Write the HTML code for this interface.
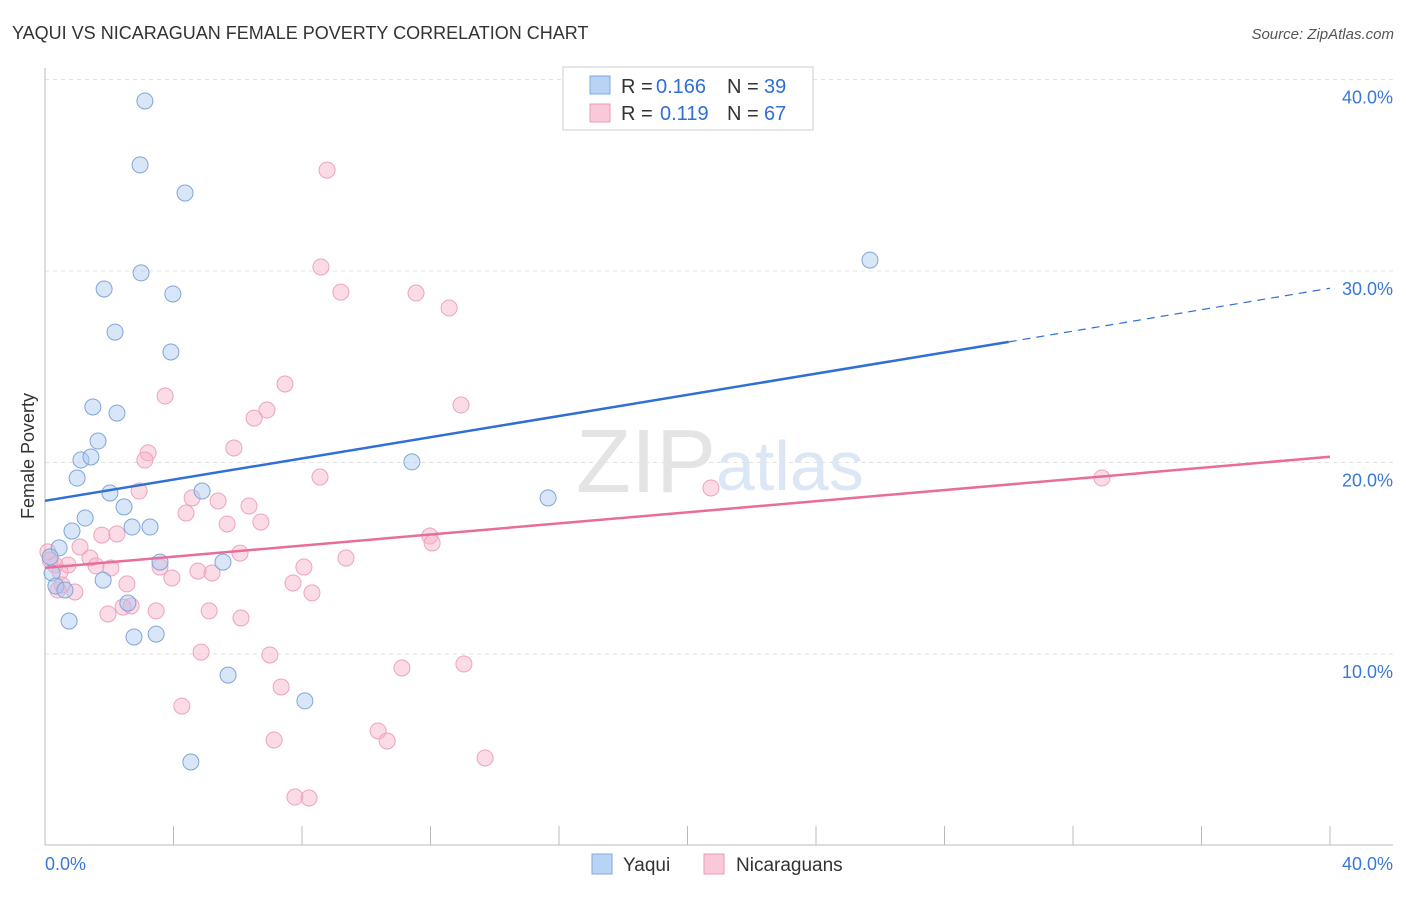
<!DOCTYPE html>
<html><head><meta charset="utf-8"><style>
body{margin:0;background:#fff;font-family:"Liberation Sans",sans-serif}
svg text{font-family:"Liberation Sans",sans-serif}
</style></head><body>
<svg id="c" width="1406" height="892">
<text x="12" y="39" font-size="18" fill="#333">YAQUI VS NICARAGUAN FEMALE POVERTY CORRELATION CHART</text>
<text x="1394" y="39" font-size="15" fill="#555" font-style="italic" text-anchor="end">Source: ZipAtlas.com</text>
<text x="34" y="456" font-size="18" fill="#333" text-anchor="middle" transform="rotate(-90 34 456)">Female Poverty</text>
<text x="716" y="492" font-size="90" fill="#e4e4e4" text-anchor="end" font-family="Liberation Serif">ZIP</text>
<text x="716" y="490" font-size="70" fill="#dbe7f6">atlas</text>
<g id="grid"></g><g id="pts"></g><g id="lines"></g>
<g>
<rect x="563" y="67" width="250" height="63" fill="#fff" stroke="#ccc"/>
<rect x="590" y="76" width="20" height="18" fill="#b9d3f5" stroke="#7fa8e0"/>
<text x="621" y="93" font-size="20" fill="#333">R = </text>
<text x="656" y="93" font-size="20" fill="#2f6fd6">0.166</text>
<text x="727" y="93" font-size="20" fill="#333">N = </text>
<text x="764" y="93" font-size="20" fill="#2f6fd6">39</text>
<rect x="590" y="104" width="20" height="18" fill="#f9c9d9" stroke="#ec9ab5"/>
<text x="621" y="120" font-size="20" fill="#333">R = </text>
<text x="660" y="120" font-size="20" fill="#2f6fd6">0.119</text>
<text x="727" y="120" font-size="20" fill="#333">N = </text>
<text x="764" y="120" font-size="20" fill="#2f6fd6">67</text>
</g>
<g>
<rect x="592" y="854" width="20" height="20" fill="#b9d3f5" stroke="#7fa8e0"/>
<text x="623" y="871" font-size="19" fill="#333">Yaqui</text>
<rect x="704" y="854" width="20" height="20" fill="#f9c9d9" stroke="#ec9ab5"/>
<text x="736" y="871" font-size="19" fill="#333">Nicaraguans</text>
</g>
<text x="45" y="870" font-size="18" fill="#3a78d8">0.0%</text>
<text x="1393" y="870" font-size="18" fill="#3a78d8" text-anchor="end">40.0%</text>
</svg>
<script>
const yTicks=[10,20,30,40];
const bluePx=[[145,101],[140,165],[185,193],[141,273],[104,289],[173,294],[115,332],[171,352],[93,407],[117,413],[98,441],[81,460],[91,457],[77,478],[110,493],[124,507],[85,518],[132,527],[150,527],[72,531],[59,548],[50,557],[52,573],[56,586],[65,590],[103,580],[128,603],[69,621],[134,637],[156,634],[160,562],[223,562],[202,491],[228,675],[305,701],[191,762],[412,462],[548,498],[870,260]];
const pinkPx=[[327,170],[321,267],[341,292],[416,293],[449,308],[165,396],[285,384],[267,410],[254,418],[461,405],[234,448],[148,453],[145,460],[139,491],[192,498],[218,501],[249,506],[186,513],[261,522],[227,524],[320,477],[117,534],[102,535],[240,553],[346,558],[430,536],[432,543],[90,558],[80,547],[68,565],[55,565],[48,552],[60,572],[96,566],[111,568],[75,592],[127,584],[160,567],[172,578],[198,571],[212,573],[304,567],[293,583],[312,593],[108,614],[123,607],[131,606],[156,611],[209,611],[241,618],[201,652],[270,655],[281,687],[402,668],[464,664],[182,706],[274,740],[378,731],[387,741],[485,758],[295,797],[309,798],[711,488],[1102,478],[62,585],[50,560],[58,590]];
const yaquiX=bluePx.map(p=>+((p[0]-45)/32.125).toFixed(2));
const yaquiY=bluePx.map(p=>+((845.5-p[1])/19.15).toFixed(2));
const nicX=pinkPx.map(p=>+((p[0]-45)/32.125).toFixed(2));
const nicY=pinkPx.map(p=>+((845.5-p[1])/19.15).toFixed(2));
const blueLine=[[0,18.0],[30,26.3],[40,29.1]];
const pinkLine=[[0,14.5],[40,20.3]];
const X=v=>45+v*32.125, Y=v=>845.5-v*19.15;
const NS='http://www.w3.org/2000/svg';
function mk(t,a,parent){const e=document.createElementNS(NS,t);for(const k in a)e.setAttribute(k,a[k]);parent.appendChild(e);return e;}
const grid=document.getElementById('grid');
yTicks.forEach(t=>{
 const l=mk('line',{x1:45,x2:1393,y1:Y(t),y2:Y(t),stroke:'#e3e3e3','stroke-dasharray':'4,4'},grid);
 
 
 const tx=mk('text',{x:1393,y:Y(t)+24,'font-size':18,fill:'#3a78d8','text-anchor':'end'},grid);
 tx.textContent=t.toFixed(1)+'%';
 
 
});
const ax=mk('line',{x1:45,x2:45,y1:68,y2:845,stroke:'#bbb'},grid);


const bx=mk('line',{x1:45,x2:1393,y1:845,y2:845,stroke:'#bbb'},grid);


for(let i=1;i<=10;i++){const tk=mk('line',{x1:X(i*4),x2:X(i*4),y1:826,y2:845,stroke:'#bbb'},grid);
 
 }
const pts=document.getElementById('pts');
nicX.forEach((x,i)=>{const c=mk('circle',{cx:X(x),cy:Y(nicY[i]),r:8,fill:'rgba(246,176,200,0.45)',stroke:'#eea3bd','stroke-width':1},pts);
 
 });
yaquiX.forEach((x,i)=>{const c=mk('circle',{cx:X(x),cy:Y(yaquiY[i]),r:8,fill:'rgba(170,200,240,0.45)',stroke:'#7ea6dc','stroke-width':1},pts);
 
 });
const lines=document.getElementById('lines');
const b1=mk('line',{x1:X(blueLine[0][0]),y1:Y(blueLine[0][1]),x2:X(blueLine[1][0]),y2:Y(blueLine[1][1]),stroke:'#2f6fd6','stroke-width':2.5},lines);


const b2=mk('line',{x1:X(blueLine[1][0]),y1:Y(blueLine[1][1]),x2:X(blueLine[2][0]),y2:Y(blueLine[2][1]),stroke:'#2f6fd6','stroke-width':1.2,'stroke-dasharray':'8,6'},lines);


const p1=mk('line',{x1:X(pinkLine[0][0]),y1:Y(pinkLine[0][1]),x2:X(pinkLine[1][0]),y2:Y(pinkLine[1][1]),stroke:'#e86d9a','stroke-width':2.5},lines);


</script>
</body></html>
